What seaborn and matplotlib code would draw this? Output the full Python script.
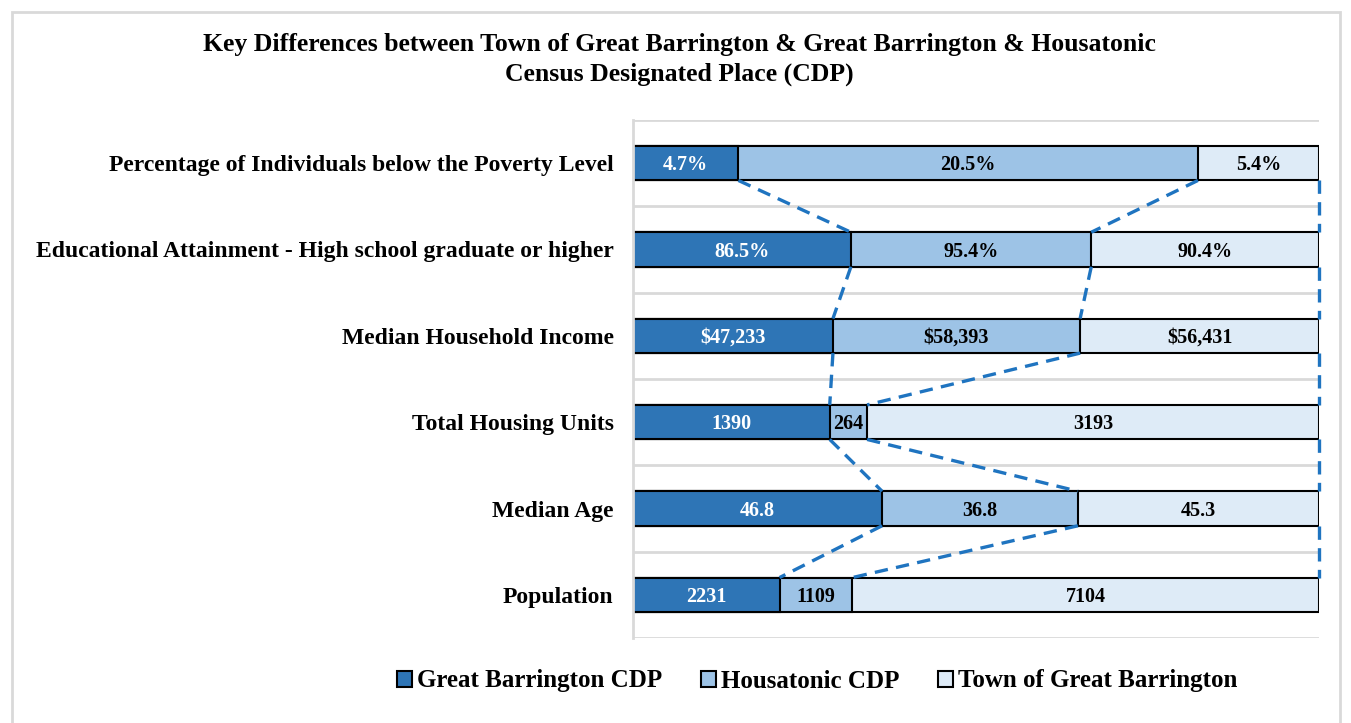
import numpy as np
import pandas as pd
import matplotlib
matplotlib.use("Agg")
import matplotlib.pyplot as plt
import seaborn as sns
from matplotlib.patches import Rectangle, Patch

# data (top row first)
categories = [
    "Percentage of Individuals below the Poverty Level",
    "Educational Attainment - High school graduate or higher",
    "Median Household Income",
    "Total Housing Units",
    "Median Age",
    "Population",
]
great_barrington = [4.7, 86.5, 47233, 1390, 46.8, 2231]
housatonic = [20.5, 95.4, 58393, 264, 36.8, 1109]
town_gb = [5.4, 90.4, 56431, 3193, 45.3, 7104]
labels_gb = ["4.7%", "86.5%", "$47,233", "1390", "46.8", "2231"]
labels_hou = ["20.5%", "95.4%", "$58,393", "264", "36.8", "1109"]
labels_town = ["5.4%", "90.4%", "$56,431", "3193", "45.3", "7104"]
series_names = ["Great Barrington CDP", "Housatonic CDP", "Town of Great Barrington"]
colors = ["#2E75B6", "#9DC3E6", "#DEEBF7"]
line_color = "#1F74C0"

sns.set_style("white")
plt.rcParams["font.family"] = ["Liberation Serif", "DejaVu Serif"]
plt.rcParams["font.weight"] = "bold"
plt.rcParams["text.color"] = "black"
plt.rcParams["ytick.color"] = "black"

df = pd.DataFrame({"cat": categories, "a": great_barrington,
                   "b": housatonic, "c": town_gb})
tot = df[["a", "b", "c"]].sum(axis=1)
df["cum1"] = df["a"] / tot
df["cum2"] = (df["a"] + df["b"]) / tot
df["cum3"] = tot / tot

fig = plt.figure(figsize=(13.51, 7.23), dpi=100)
ax = fig.add_axes([633 / 1351, 1 - 638 / 723, 686 / 1351, 518 / 723])

# layered bars give the 100% stacked look
for col, c in zip(["cum3", "cum2", "cum1"], colors[::-1]):
    sns.barplot(data=df, x=col, y="cat", color=c, edgecolor="black",
                linewidth=1.5, width=0.4, ax=ax, orient="h", saturation=1)

# series lines between adjacent bars
h = 0.2
for i in range(len(df) - 1):
    for col in ["cum1", "cum2", "cum3"]:
        ax.plot([df[col][i], df[col][i + 1]], [i + h, i + 1 - h],
                ls=(0, (4, 2.5)), color=line_color, lw=2.4, zorder=1,
                clip_on=False)

# value labels
starts = [np.zeros(len(df)), df["cum1"].values, df["cum2"].values]
ends = [df["cum1"].values, df["cum2"].values, df["cum3"].values]
for k, labs in enumerate([labels_gb, labels_hou, labels_town]):
    for i, lab in enumerate(labs):
        xm = (starts[k][i] + ends[k][i]) / 2
        ax.text(xm, i + 0.025, lab, ha="center", va="center", fontsize=14.5,
                fontweight="bold", color="white" if k == 0 else "black",
                zorder=5)

ax.set_xlim(0, 1)
ax.set_ylim(len(df) - 0.5, -0.5)
ax.set_xlabel("")
ax.set_ylabel("")
ax.set_xticks([])
ax.set_yticks(range(len(df)))
ax.set_yticklabels(categories, fontsize=17, fontweight="bold")
ax.tick_params(axis="y", length=0, pad=14)
for b in np.arange(-0.5, len(df), 1):
    ax.axhline(b, color="#D9D9D9", lw=2, zorder=0)
for s in ["top", "right", "bottom"]:
    ax.spines[s].set_visible(False)
ax.spines["left"].set_color("#D9D9D9")
ax.spines["left"].set_linewidth(2)

fig.text(0.503, 1 - 44 / 723, "Key Differences between Town of Great Barrington & Great Barrington & Housatonic",
         ha="center", va="center", fontsize=18.5, fontweight="bold")
fig.text(0.503, 1 - 74 / 723, "Census Designated Place (CDP)",
         ha="center", va="center", fontsize=18.5, fontweight="bold")

handles = [Patch(facecolor=c, edgecolor="black", linewidth=1.5) for c in colors]
fig.legend(handles, series_names, loc="center", bbox_to_anchor=(0.605, 1 - 681 / 723),
           ncol=3, frameon=False, handlelength=0.6, handleheight=0.6,
           handletextpad=0.2, columnspacing=1.55, prop={"weight": "bold", "size": 18})

# chart border
fig.patches.append(Rectangle((12 / 1351, -0.01), 1328 / 1351, 1 - 12 / 723 + 0.01,
                             transform=fig.transFigure, fill=False,
                             edgecolor="#D9D9D9", lw=2))

fig.savefig("out.png", dpi=100)
